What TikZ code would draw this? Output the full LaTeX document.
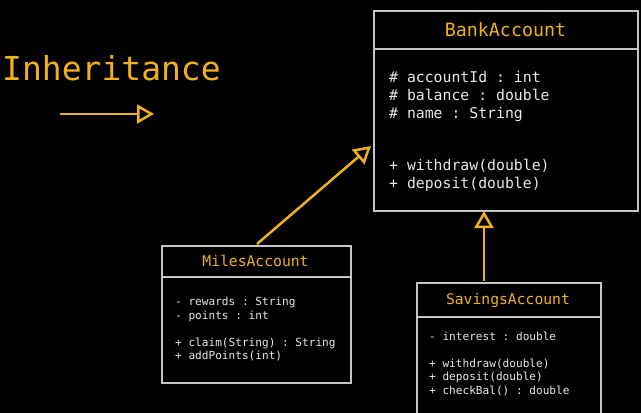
\documentclass[tikz,border=0pt]{standalone}
\usepackage{fontspec}
\setmonofont{DejaVu Sans Mono}
\usetikzlibrary{arrows.meta}
\definecolor{umlorange}{HTML}{F2B01E}
\definecolor{boxgray}{HTML}{C4C4C4}
\definecolor{txtwhite}{HTML}{E8E8E8}
\tikzset{
  classbox/.style={draw=boxgray, line width=2pt, fill=black, inner sep=0pt, anchor=north west},
  divider/.style={draw=boxgray, line width=2pt},
  bigtitle/.style={text=umlorange, font=\ttfamily\fontsize{18.3}{20}\selectfont, anchor=base, inner sep=0pt},
  smalltitle/.style={text=umlorange, font=\ttfamily\fontsize{14.7}{16}\selectfont, anchor=base, inner sep=0pt},
  bigmember/.style={text=txtwhite, font=\ttfamily\fontsize{14.8}{16}\selectfont, anchor=base west, inner sep=0pt},
  smallmember/.style={text=txtwhite, font=\ttfamily\fontsize{11.1}{12}\selectfont, anchor=base west, inner sep=0pt},
  inherit/.style={draw=umlorange, line width=2.5pt, -{Triangle[open, length=17pt, width=19pt, fill=black]}},
}
\begin{document}
\begin{tikzpicture}[x=1pt,y=-1pt]
\fill[black] (0,0) rectangle (641,413);
\useasboundingbox (0,0) rectangle (641,413);

% legend
\node[text=umlorange, font=\ttfamily\fontsize{33}{36}\selectfont, anchor=base west, inner sep=0pt] (legend) at (2,80) {Inheritance};
\coordinate (lgA) at (60,114);
\coordinate (lgB) at (154,114);
\draw[inherit] (lgA) -- (lgB);

% BankAccount
\node[classbox, minimum width=264, minimum height=200] (bank) at (373,10) {};
\draw[divider] (bank.west |- 0,49) -- (bank.east |- 0,49);
\node[bigtitle] (banktitle) at (505.5,36) {BankAccount};
\node[bigmember] (b1) at (389,82) {\# accountId : int};
\node[bigmember] (b2) at (389,100) {\# balance : double};
\node[bigmember] (b3) at (389,118) {\# name : String};
\node[bigmember] (b4) at (389,170) {+ withdraw(double)};
\node[bigmember] (b5) at (389,188) {+ deposit(double)};

% MilesAccount
\node[classbox, minimum width=189, minimum height=137] (miles) at (161,245) {};
\draw[divider] (miles.west |- 0,277) -- (miles.east |- 0,277);
\node[smalltitle] (milestitle) at (255.5,266) {MilesAccount};
\node[smallmember] (m1) at (175,305) {- rewards : String};
\node[smallmember] (m2) at (175,319) {- points : int};
\node[smallmember] (m3) at (175,346) {+ claim(String) : String};
\node[smallmember] (m4) at (175,359) {+ addPoints(int)};

% SavingsAccount
\node[classbox, minimum width=184, minimum height=132] (savings) at (416,282) {};
\draw[divider] (savings.west |- 0,317) -- (savings.east |- 0,317);
\node[smalltitle] (savtitle) at (508,304) {SavingsAccount};
\node[smallmember] (s1) at (429,340) {- interest : double};
\node[smallmember] (s2) at (429,367) {+ withdraw(double)};
\node[smallmember] (s3) at (429,380) {+ deposit(double)};
\node[smallmember] (s4) at (429,394) {+ checkBal() : double};

% connectors
\coordinate (milesTop) at (257,244);
\coordinate (bankIn) at (371,146);
\draw[inherit] (milesTop) -- (bankIn);
\coordinate (savTop) at (484,281);
\coordinate (bankBot) at (484,211);
\draw[inherit] (savTop) -- (bankBot);
\end{tikzpicture}
\end{document}
